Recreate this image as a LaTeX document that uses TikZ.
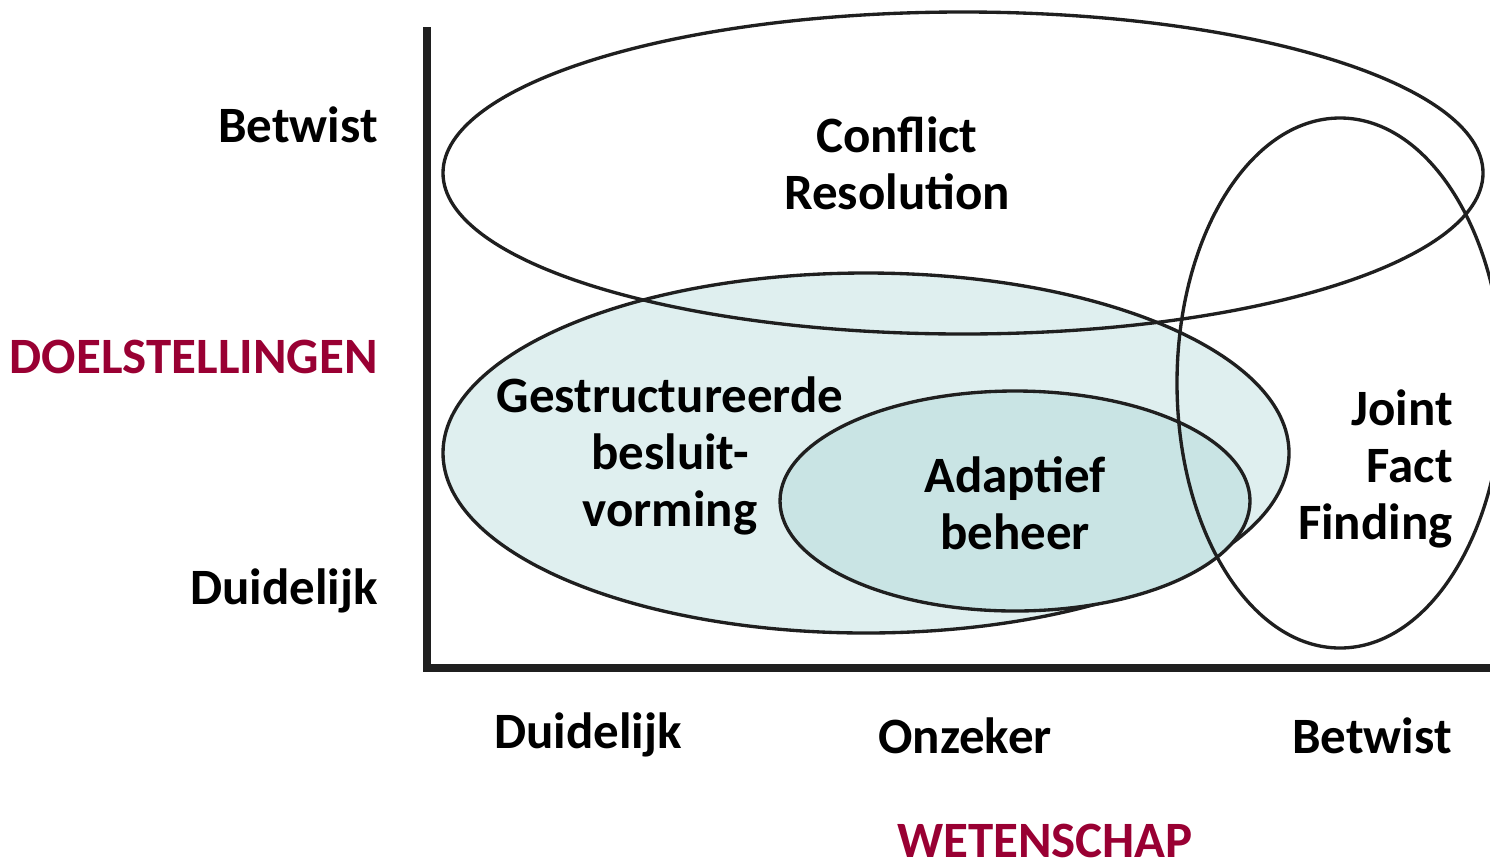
\documentclass[tikz,border=0pt]{standalone}
\usepackage{fontspec}
\setmainfont{Carlito}
\usetikzlibrary{positioning}
\definecolor{wijnrood}{HTML}{990033}
\definecolor{lichtteal}{HTML}{DFEFEF}
\definecolor{donkerteal}{HTML}{C9E4E4}

\begin{document}
\begin{tikzpicture}[x=0.02cm,y=-0.02cm,
  lbl/.style={font=\fontsize{29}{32.5}\selectfont\bfseries, inner sep=0pt, align=center},
  aslbl/.style={font=\fontsize{29}{32.5}\selectfont\bfseries, inner sep=0pt, text=wijnrood},
  rand/.style={draw=black!88, line width=1.9pt},
  as/.style={draw=black!88, line width=4.5pt}]
\useasboundingbox (0,0) rectangle (1490,866);
% ellipsen
\draw[rand, fill=lichtteal] (866,453) ellipse [x radius=423, y radius=180];
\draw[rand, fill=donkerteal] (1015,501) ellipse [x radius=235, y radius=110];
\draw[rand] (963,173) ellipse [x radius=520, y radius=161];
\draw[rand] (1340,383) ellipse [x radius=163, y radius=265];
% assen
\coordinate (top) at (427,27);
\coordinate (oorsprong) at (427,668);
\coordinate (eind) at (1490,668);
\draw[as] (top) -- (oorsprong) -- (eind);
% teksten in de ellipsen
\node[lbl] (conflict) at (897,163) {Conflict\\Resolution};
\node[lbl] (besluit) at (670,456) {Gestructureerde\\besluit-\\vorming};
\node[lbl] (adaptief) at (1015,503) {Adaptief\\beheer};
\node[lbl, align=right, anchor=east] (joint) at (1453,469) {Joint\\Fact\\Finding};
% verticale as
\node[lbl, anchor=east] (ybetwist) at (378,125) {Betwist};
\node[aslbl, anchor=east] (doel) at (378,357) {DOELSTELLINGEN};
\node[lbl, anchor=east] (yduidelijk) at (378,591) {Duidelijk};
% horizontale as
\node[lbl] (xduidelijk) at (588,735) {Duidelijk};
\node[lbl] (onzeker) at (965,736) {Onzeker};
\node[lbl] (xbetwist) at (1372,736) {Betwist};
\node[aslbl] (wetenschap) at (1045,841) {WETENSCHAP};
\end{tikzpicture}
\end{document}
